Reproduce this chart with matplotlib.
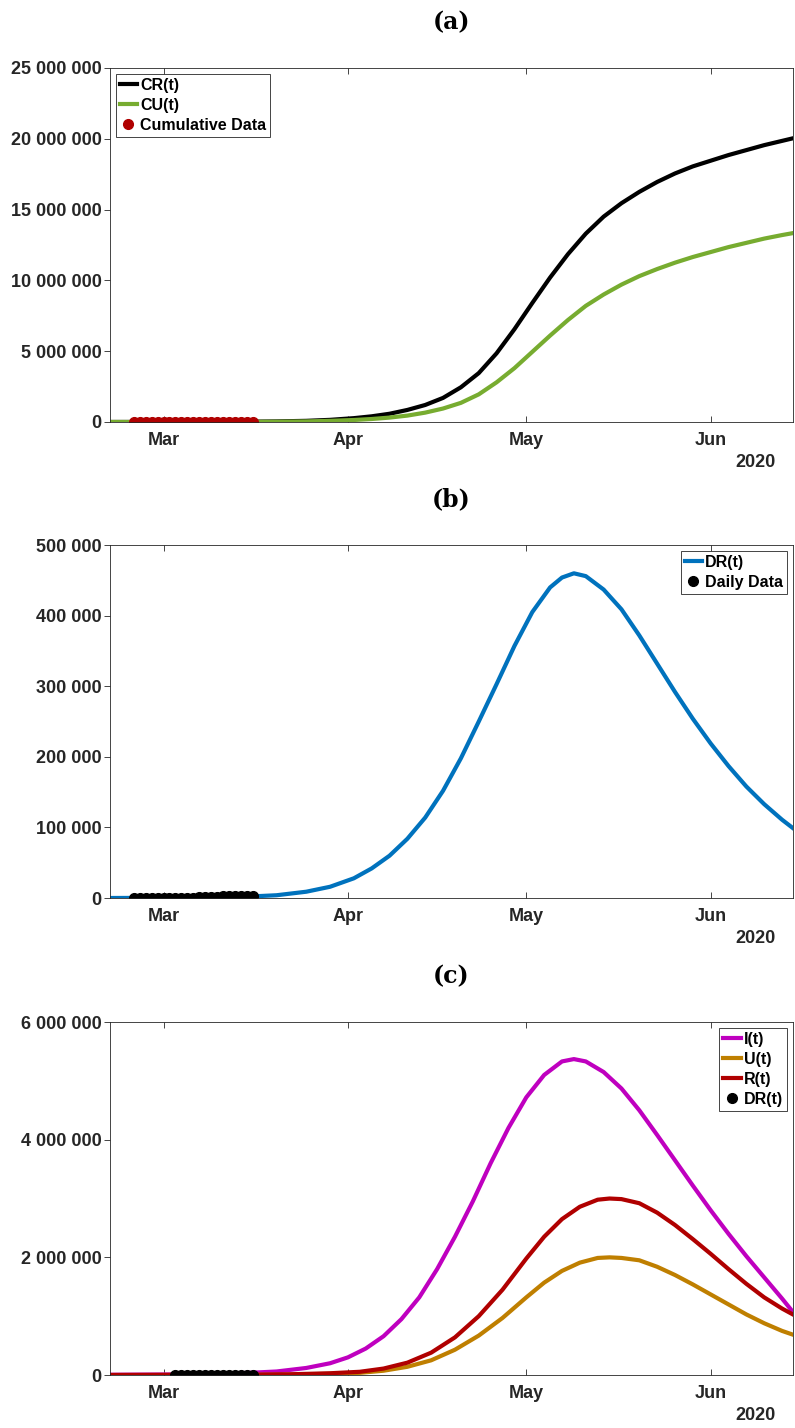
# -*- coding: utf-8 -*-
"""Model fit panels: cumulative cases, daily cases and compartments."""

import matplotlib

matplotlib.use("Agg")
import matplotlib.dates as mdates
import matplotlib.pyplot as plt
import numpy as np
import pandas as pd
from matplotlib.ticker import FuncFormatter

# ---- panel (a): cumulative reported / unreported (millions) ----
CUM_DATES = [
    "2020-02-21", "2020-03-05", "2020-03-15", "2020-03-20", "2020-03-25", "2020-03-29",
    "2020-04-02", "2020-04-05", "2020-04-08", "2020-04-11", "2020-04-14", "2020-04-17",
    "2020-04-20", "2020-04-23", "2020-04-26", "2020-04-29", "2020-05-02", "2020-05-05",
    "2020-05-08", "2020-05-11", "2020-05-14", "2020-05-17", "2020-05-20", "2020-05-23",
    "2020-05-26", "2020-05-29", "2020-06-01", "2020-06-04", "2020-06-07", "2020-06-10",
    "2020-06-13", "2020-06-15",
]
CR_M = [0.0, 0.005, 0.02, 0.04, 0.08, 0.15, 0.27, 0.4, 0.58, 0.85, 1.2, 1.7,
        2.45, 3.45, 4.85, 6.55, 8.4, 10.2, 11.85, 13.3, 14.5, 15.45, 16.25, 16.95,
        17.55, 18.05, 18.45, 18.85, 19.2, 19.55, 19.85, 20.05]
CU_M = [0.0, 0.002, 0.01, 0.02, 0.04, 0.08, 0.14, 0.21, 0.31, 0.45, 0.66, 0.95,
        1.35, 1.95, 2.8, 3.8, 4.95, 6.1, 7.2, 8.2, 9.0, 9.7, 10.3, 10.8,
        11.25, 11.65, 12.0, 12.35, 12.65, 12.95, 13.2, 13.35]

# ---- panel (b): daily reported (thousands) ----
DR_DATES = [
    "2020-02-21", "2020-03-05", "2020-03-15", "2020-03-20", "2020-03-25", "2020-03-29",
    "2020-04-02", "2020-04-05", "2020-04-08", "2020-04-11", "2020-04-14", "2020-04-17",
    "2020-04-20", "2020-04-23", "2020-04-26", "2020-04-29", "2020-05-02", "2020-05-05",
    "2020-05-07", "2020-05-09", "2020-05-11", "2020-05-14", "2020-05-17", "2020-05-20",
    "2020-05-23", "2020-05-26", "2020-05-29", "2020-06-01", "2020-06-04", "2020-06-07",
    "2020-06-10", "2020-06-13", "2020-06-15",
]
DR_K = [0.1, 0.5, 2, 4, 9, 16, 28, 42, 60, 84, 114, 152,
        198, 250, 303, 357, 405, 440, 454, 460, 456, 437, 409, 372,
        332, 292, 254, 219, 187, 158, 133, 111, 98]

# ---- panel (c): compartments (millions) ----
I_DATES = [
    "2020-02-21", "2020-03-05", "2020-03-15", "2020-03-20", "2020-03-25", "2020-03-29",
    "2020-04-01", "2020-04-04", "2020-04-07", "2020-04-10", "2020-04-13", "2020-04-16",
    "2020-04-19", "2020-04-22", "2020-04-25", "2020-04-28", "2020-05-01", "2020-05-04",
    "2020-05-07", "2020-05-09", "2020-05-11", "2020-05-14", "2020-05-17", "2020-05-20",
    "2020-05-23", "2020-05-26", "2020-05-29", "2020-06-01", "2020-06-04", "2020-06-07",
    "2020-06-10", "2020-06-13", "2020-06-15",
]
I_M = [0.005, 0.012, 0.035, 0.06, 0.12, 0.2, 0.3, 0.45, 0.66, 0.95, 1.32, 1.8,
       2.35, 2.95, 3.6, 4.2, 4.72, 5.1, 5.33, 5.37, 5.33, 5.15, 4.87, 4.5,
       4.08, 3.65, 3.22, 2.8, 2.4, 2.02, 1.66, 1.3, 1.05]
RU_DATES = [
    "2020-02-21", "2020-03-15", "2020-03-22", "2020-03-29", "2020-04-03", "2020-04-07",
    "2020-04-11", "2020-04-15", "2020-04-19", "2020-04-23", "2020-04-27", "2020-05-01",
    "2020-05-04", "2020-05-07", "2020-05-10", "2020-05-13", "2020-05-15", "2020-05-17",
    "2020-05-20", "2020-05-23", "2020-05-26", "2020-05-29", "2020-06-01", "2020-06-04",
    "2020-06-07", "2020-06-10", "2020-06-13", "2020-06-15",
]
R_M = [0.0, 0.004, 0.012, 0.03, 0.055, 0.11, 0.21, 0.38, 0.64, 1.0, 1.45, 1.98,
       2.35, 2.65, 2.86, 2.98, 3.0, 2.99, 2.92, 2.76, 2.55, 2.31, 2.06, 1.8,
       1.55, 1.32, 1.13, 1.02]
U_M = [0.0, 0.003, 0.008, 0.02, 0.037, 0.073, 0.14, 0.25, 0.43, 0.67, 0.97, 1.32,
       1.57, 1.77, 1.91, 1.99, 2.0, 1.99, 1.95, 1.84, 1.7, 1.54, 1.37, 1.2,
       1.03, 0.88, 0.75, 0.68]

# ---- observed data ----
OBS_DATES = pd.date_range("2020-02-25", "2020-03-16").strftime("%Y-%m-%d").tolist()
OBS_CUM = [322, 453, 655, 888, 1128, 1694, 2036, 2502, 3089, 3858, 4636, 5883, 7375,
           9172, 10149, 12462, 15113, 17660, 21157, 24747, 27980]
OBS_DAILY = [93, 131, 202, 233, 240, 566, 342, 466, 587, 769, 778, 1247, 1492, 1797,
             977, 2313, 2651, 2547, 3497, 3590, 3233]
OBS_C_DATES = pd.date_range("2020-03-03", "2020-03-16").strftime("%Y-%m-%d").tolist()
OBS_C_DAILY = OBS_DAILY[7:]

MONTH_TICKS = ["2020-03-01", "2020-04-01", "2020-05-01", "2020-06-01"]
X_START, X_END = "2020-02-21", "2020-06-14 20:00"

TXT = "#262626"
FONT = ["Liberation Sans", "DejaVu Sans"]


def space_thousands(v, _pos):
    return f"{int(round(v)):,}".replace(",", " ")


def style_axes(ax, title, ymax, ystep):
    ax.set_xlim(pd.Timestamp(X_START), pd.Timestamp(X_END))
    ax.set_ylim(0, ymax)
    ax.set_yticks(np.arange(0, ymax + 1, ystep))
    ax.yaxis.set_major_formatter(FuncFormatter(space_thousands))
    ax.set_xticks(pd.to_datetime(MONTH_TICKS))
    ax.xaxis.set_major_formatter(mdates.DateFormatter("%b"))
    ax.tick_params(axis="x", direction="in", top=True, length=4, width=0.6,
                   color=TXT, pad=7)
    ax.tick_params(axis="y", direction="out", length=4, width=0.6, color=TXT, pad=2)
    for lbl in ax.get_xticklabels() + ax.get_yticklabels():
        lbl.set_fontweight("bold")
        lbl.set_fontsize(13)
        lbl.set_color(TXT)
        lbl.set_family(FONT)
    for sp in ax.spines.values():
        sp.set_color(TXT)
        sp.set_linewidth(0.6)
    ax.set_title(title, fontsize=17, fontweight="bold", family="DejaVu Serif", pad=28)
    ax.text(0.945, -0.115, "2020", transform=ax.transAxes, ha="center", va="center",
            fontsize=13, fontweight="bold", color=TXT, family=FONT)


def legend(ax, loc):
    leg = ax.legend(loc=loc, handlelength=1.1, handletextpad=0.2, borderpad=0.25,
                    labelspacing=0.32, borderaxespad=0.35, fancybox=False,
                    framealpha=1, edgecolor=TXT,
                    prop={"family": FONT, "weight": "bold", "size": 11.5})
    leg.get_frame().set_linewidth(0.6)


def main():
    fig = plt.figure(figsize=(7.95, 14.28), dpi=100)
    lw = 3.0

    # (a)
    ax = fig.add_axes([0.1384, 0.7045, 0.859, 0.2479])
    ax.plot(pd.to_datetime(CUM_DATES), np.array(CR_M) * 1e6, color="black", lw=lw, label="CR(t)")
    ax.plot(pd.to_datetime(CUM_DATES), np.array(CU_M) * 1e6, color="#77AC30", lw=lw, label="CU(t)")
    ax.plot(pd.to_datetime(OBS_DATES), OBS_CUM, "o", color="#B00000", ms=7, label="Cumulative Data")
    style_axes(ax, "(a)", 25_000_000, 5_000_000)
    legend(ax, "upper left")

    # (b)
    ax = fig.add_axes([0.1384, 0.3711, 0.859, 0.2472])
    ax.plot(pd.to_datetime(DR_DATES), np.array(DR_K) * 1e3, color="#0072BD", lw=lw, label="DR(t)")
    ax.plot(pd.to_datetime(OBS_DATES), OBS_DAILY, "o", color="black", ms=7, label="Daily Data")
    style_axes(ax, "(b)", 500_000, 100_000)
    legend(ax, "upper right")

    # (c)
    ax = fig.add_axes([0.1384, 0.0371, 0.859, 0.2472])
    ax.plot(pd.to_datetime(I_DATES), np.array(I_M) * 1e6, color="#BF00BF", lw=lw, label="I(t)")
    ax.plot(pd.to_datetime(RU_DATES), np.array(U_M) * 1e6, color="#BF7F00", lw=lw, label="U(t)")
    ax.plot(pd.to_datetime(RU_DATES), np.array(R_M) * 1e6, color="#B00000", lw=lw, label="R(t)")
    ax.plot(pd.to_datetime(OBS_C_DATES), OBS_C_DAILY, "o", color="black", ms=7, label="DR(t)")
    style_axes(ax, "(c)", 6_000_000, 2_000_000)
    legend(ax, "upper right")

    fig.savefig("out.png", dpi=100)
    plt.close(fig)


if __name__ == "__main__":
    main()
